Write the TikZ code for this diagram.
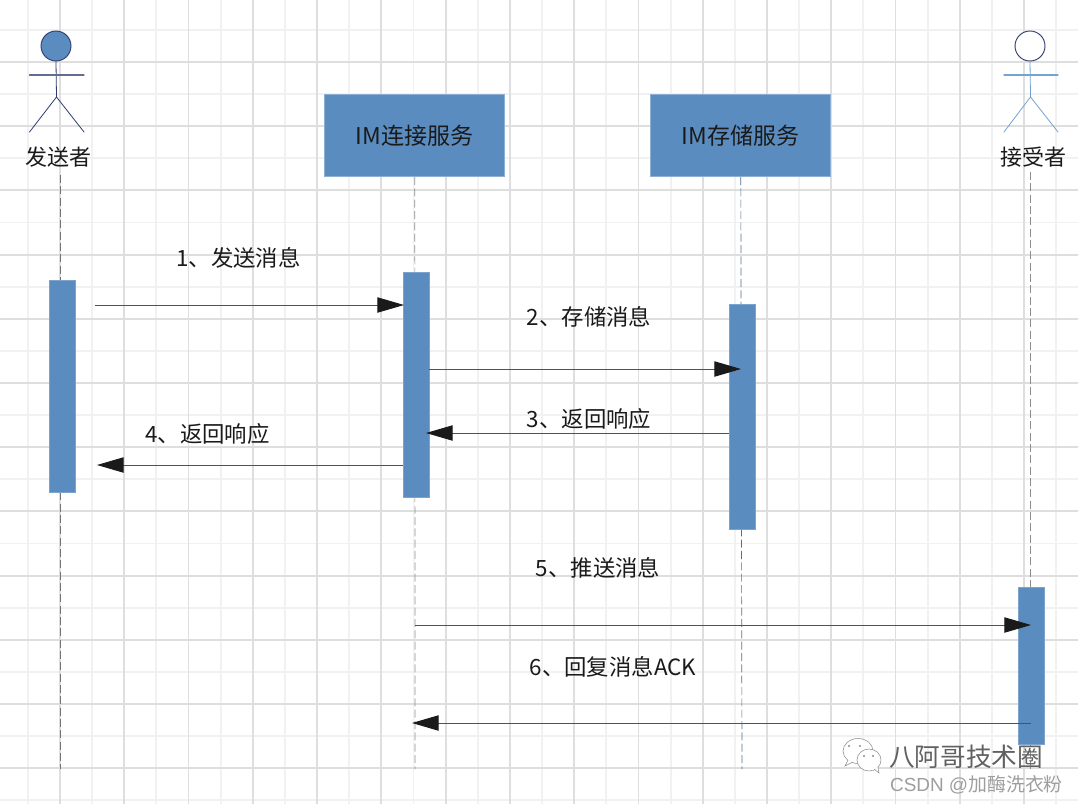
\documentclass[tikz,border=0pt]{standalone}
\usepackage{fontspec}
\usetikzlibrary{arrows.meta}
\setmainfont{Noto Sans CJK SC}
\newfontfamily\wmfont{Liberation Sans}
\definecolor{gridmaj}{HTML}{DEDEDE}
\definecolor{gridmin}{HTML}{F1F1F1}
\definecolor{boxblue}{HTML}{5B8CC0}
\definecolor{navy}{HTML}{2F3D6E}
\definecolor{ltblue}{HTML}{74A2D2}
\definecolor{arrowdark}{HTML}{1A1A1A}
\definecolor{txt}{HTML}{1A1A1A}
\tikzset{
  x=0.75pt,y=-0.75pt,
  lbl/.style={font=\fontsize{16.8pt}{18pt}\selectfont,text=txt,inner sep=0pt},
  actorlbl/.style={font=\fontsize{16.5pt}{18pt}\selectfont,text=txt,inner sep=0pt},
  service/.style={fill=boxblue,draw=boxblue!70!white,line width=0.5pt,minimum width=135pt,minimum height=61.5pt,inner sep=0pt,font=\fontsize{17.3pt}{19pt}\selectfont,text=txt},
  bar/.style={fill=boxblue,draw=boxblue!80!white,line width=0.4pt,minimum width=19.5pt,inner sep=0pt},
  lifeA/.style={draw=black!55,line width=1pt,dash pattern=on 6pt off 2.5pt},
  lifeB/.style={draw=black!45,line width=0.5pt,dash pattern=on 6pt off 2.5pt},
  lifeC/.style={draw=ltblue!70!black,line width=0.5pt,dash pattern=on 6pt off 2.5pt},
  msg/.style={draw=black!68,line width=0.7pt,-{Triangle[length=20pt,width=11.5pt,fill=arrowdark,color=arrowdark]}},
  limb/.style={line width=0.6pt,line cap=round},
  wechat/.style={draw=black!45,fill=white,line width=0.4pt},
}
\begin{document}
\begin{tikzpicture}
\useasboundingbox (0,0) rectangle (1078,804);
\fill[white] (0,0) rectangle (1078,804);
% grid
\foreach \k in {-1,...,16}{
  \draw[gridmin,line width=1.4pt] ({60+64.27*\k+32.13},0) -- ({60+64.27*\k+32.13},804);
  \draw[gridmin,line width=1.4pt] (0,{62+64.2*\k+32.1}) -- (1078,{62+64.2*\k+32.1});
}
\foreach \k in {-1,...,16}{
  \draw[gridmaj,line width=1.4pt] ({60+64.27*\k},0) -- ({60+64.27*\k},804);
  \draw[gridmaj,line width=1.4pt] (0,{62+64.2*\k}) -- (1078,{62+64.2*\k});
}
% coordinates
\coordinate (ls1) at (60.5,175);
\coordinate (le1) at (60.5,769);
\coordinate (le2) at (415,769);
\coordinate (le3) at (742,769);
\coordinate (ls4) at (1030.5,172);
\coordinate (le4) at (1030.5,769);
% service boxes
\node[service] (conn) at (414.8,135.7) {IM连接服务};
\node[service] (store) at (740.8,135.7) {IM存储服务};
% lifelines
\draw[lifeA] (ls1) -- (le1);
\draw[lifeB] (conn.south) -- (le2);
\draw[lifeC] (store.south) -- (le3);
\draw[lifeB] (ls4) -- (le4);
% actors
\node[circle,draw=navy,fill=boxblue,line width=0.7pt,minimum size=22.5pt,inner sep=0pt] (headA) at (56,46) {};
\coordinate (hipA) at (56.5,97);
\coordinate (armAl) at (29.5,75);
\coordinate (armAr) at (84,75);
\coordinate (legAl) at (29.5,132);
\coordinate (legAr) at (84,132);
\draw[limb,navy] (headA.south) -- (hipA);
\draw[limb,navy!75!white,line width=0.9pt] (armAl) -- (armAr);
\draw[limb,navy] (legAl) -- (hipA) -- (legAr);
\node[actorlbl] (lblA) at (59,157) {发送者};
\node[circle,draw=navy,fill=white,line width=0.7pt,minimum size=22.5pt,inner sep=0pt] (headB) at (1030,46) {};
\coordinate (hipB) at (1030.5,97);
\coordinate (armBl) at (1004,75);
\coordinate (armBr) at (1058,75);
\coordinate (legBl) at (1004,132);
\coordinate (legBr) at (1058,132);
\draw[limb,ltblue] (headB.south) -- (hipB);
\draw[limb,ltblue,line width=0.9pt] (armBl) -- (armBr);
\draw[limb,ltblue] (legBl) -- (hipB) -- (legBr);
\node[actorlbl] (lblB) at (1033,157) {接受者};
% activation bars
\node[bar,minimum height=159pt] (barA) at (62,385.8) {};
\node[bar,minimum height=169pt] (barB) at (416,384.8) {};
\node[bar,minimum height=169pt] (barC) at (742,416.8) {};
\node[bar,minimum height=117.75pt] (barD) at (1031,666.2) {};
% message end points
\coordinate (m1s) at (95,305);
\coordinate (m1e) at (404,305);
\coordinate (m2s) at (429,369);
\coordinate (m2e) at (741,369);
\coordinate (m3s) at (729,433);
\coordinate (m3e) at (426,433);
\coordinate (m4s) at (403,465);
\coordinate (m4e) at (97,465);
\coordinate (m5s) at (415,625);
\coordinate (m5e) at (1031,625);
\coordinate (m6s) at (1031,723);
\coordinate (m6e) at (412,723);
\draw[msg] (m1s) -- (m1e);
\draw[msg] (m2s) -- (m2e);
\draw[msg] (m3s) -- (m3e);
\draw[msg] (m4s) -- (m4e);
\draw[msg] (m5s) -- (m5e);
\draw[msg] (m6s) -- (m6e);
% labels
\node[lbl] (t1) at (238.5,258) {1、发送消息};
\node[lbl] (t2) at (589,317) {2、存储消息};
\node[lbl] (t3) at (589,419) {3、返回响应};
\node[lbl] (t4) at (207.5,434) {4、返回响应};
\node[lbl] (t5) at (598,568) {5、推送消息};
\node[lbl] (t6) at (613,667) {6、回复消息ACK};
% watermark
\draw[wechat] (858,751) ellipse[x radius=15,y radius=12.5];
\draw[wechat] (848,760) -- (845,766) -- (853,762);
\draw[wechat] (869,760) ellipse[x radius=12,y radius=11];
\draw[wechat] (874,769) -- (879,773) -- (878,767);
\fill[black!45] (849,746) circle[radius=1.2] (860,746) circle[radius=1.2] (864,756) circle[radius=1.2] (873,756) circle[radius=1.2];
\node[inner sep=0pt,text=black!62,font=\fontsize{19.2pt}{21pt}\selectfont] (wm1) at (966,757) {八阿哥技术圈};
\node[inner sep=0pt,text=black!38,font=\fontsize{14.2pt}{15pt}\selectfont] (wm2) at (976.5,785) {{\wmfont CSDN @}加酶洗衣粉};
\end{tikzpicture}
\end{document}
